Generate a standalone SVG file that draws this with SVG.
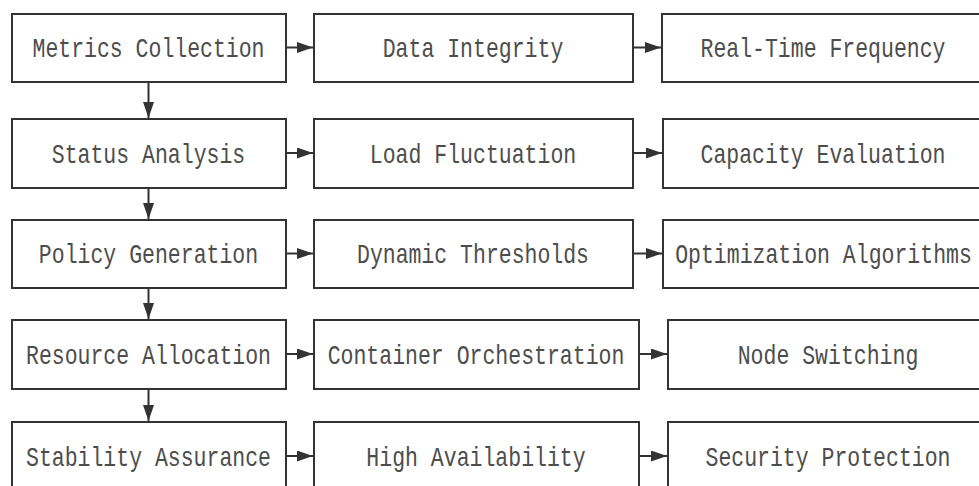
<svg xmlns="http://www.w3.org/2000/svg" width="979" height="486" viewBox="0 0 979 486">
<defs>
<style>
.box{fill:#fff;stroke:#333;stroke-width:2}
.lbl{font-family:"Liberation Mono","DejaVu Sans Mono",monospace;font-size:28px;fill:#4d4d4d;text-anchor:middle}
.edge{stroke:#333;stroke-width:2;fill:none;marker-end:url(#ah)}
</style>
<marker id="ah" markerUnits="userSpaceOnUse" markerWidth="16" markerHeight="11" refX="16" refY="5.5" orient="auto">
<path d="M0,0 L16,5.5 L0,11 Z" fill="#333"/>
</marker>
</defs>
<rect width="979" height="486" fill="#fff"/>
<g id="connectors">
<line class="edge" x1="286" y1="47.5" x2="313" y2="47.5"/>
<line class="edge" x1="633" y1="47.5" x2="661" y2="47.5"/>
<line class="edge" x1="286" y1="153" x2="313" y2="153"/>
<line class="edge" x1="633" y1="153" x2="662" y2="153"/>
<line class="edge" x1="286" y1="253.5" x2="313" y2="253.5"/>
<line class="edge" x1="633" y1="253.5" x2="662" y2="253.5"/>
<line class="edge" x1="286" y1="354" x2="313" y2="354"/>
<line class="edge" x1="639" y1="354" x2="667" y2="354"/>
<line class="edge" x1="286" y1="456" x2="313" y2="456"/>
<line class="edge" x1="639" y1="456" x2="667" y2="456"/>
<line class="edge" x1="148.5" y1="82" x2="148.5" y2="118"/>
<line class="edge" x1="148.5" y1="188" x2="148.5" y2="219"/>
<line class="edge" x1="148.5" y1="288" x2="148.5" y2="319"/>
<line class="edge" x1="148.5" y1="389" x2="148.5" y2="421"/>
</g>
<g id="metrics-collection"><rect class="box" x="12" y="14" width="274" height="68"/><text class="lbl" x="148.5" y="57" textLength="232" lengthAdjust="spacingAndGlyphs">Metrics Collection</text></g>
<g id="data-integrity"><rect class="box" x="314" y="14" width="319" height="68"/><text class="lbl" x="473" y="57" textLength="180.6" lengthAdjust="spacingAndGlyphs">Data Integrity</text></g>
<g id="real-time-frequency"><rect class="box" x="662" y="14" width="324" height="68"/><text class="lbl" x="823" y="57" textLength="245" lengthAdjust="spacingAndGlyphs">Real-Time Frequency</text></g>

<g id="status-analysis"><rect class="box" x="12" y="119" width="274" height="69"/><text class="lbl" x="148.5" y="162.5" textLength="193.5" lengthAdjust="spacingAndGlyphs">Status Analysis</text></g>
<g id="load-fluctuation"><rect class="box" x="314" y="119" width="319" height="69"/><text class="lbl" x="473" y="162.5" textLength="206.4" lengthAdjust="spacingAndGlyphs">Load Fluctuation</text></g>
<g id="capacity-evaluation"><rect class="box" x="663" y="119" width="324" height="69"/><text class="lbl" x="823" y="162.5" textLength="245" lengthAdjust="spacingAndGlyphs">Capacity Evaluation</text></g>

<g id="policy-generation"><rect class="box" x="12" y="220" width="274" height="68"/><text class="lbl" x="148.5" y="263" textLength="219.3" lengthAdjust="spacingAndGlyphs">Policy Generation</text></g>
<g id="dynamic-thresholds"><rect class="box" x="314" y="220" width="319" height="68"/><text class="lbl" x="473" y="263" textLength="232" lengthAdjust="spacingAndGlyphs">Dynamic Thresholds</text></g>
<g id="optimization-algorithms"><rect class="box" x="663" y="220" width="324" height="68"/><text class="lbl" x="823.5" y="263" textLength="296.7" lengthAdjust="spacingAndGlyphs">Optimization Algorithms</text></g>

<g id="resource-allocation"><rect class="box" x="12" y="320" width="274" height="69"/><text class="lbl" x="148.5" y="363.5" textLength="245" lengthAdjust="spacingAndGlyphs">Resource Allocation</text></g>
<g id="container-orchestration"><rect class="box" x="314" y="320" width="325" height="69"/><text class="lbl" x="476" y="363.5" textLength="296.7" lengthAdjust="spacingAndGlyphs">Container Orchestration</text></g>
<g id="node-switching"><rect class="box" x="668" y="320" width="322" height="69"/><text class="lbl" x="828" y="363.5" textLength="180.6" lengthAdjust="spacingAndGlyphs">Node Switching</text></g>

<g id="stability-assurance"><rect class="box" x="12" y="422" width="274" height="69"/><text class="lbl" x="148.5" y="465.5" textLength="245" lengthAdjust="spacingAndGlyphs">Stability Assurance</text></g>
<g id="high-availability"><rect class="box" x="314" y="422" width="325" height="69"/><text class="lbl" x="476" y="465.5" textLength="219.3" lengthAdjust="spacingAndGlyphs">High Availability</text></g>
<g id="security-protection"><rect class="box" x="668" y="422" width="322" height="69"/><text class="lbl" x="828" y="465.5" textLength="245" lengthAdjust="spacingAndGlyphs">Security Protection</text></g>
</svg>
